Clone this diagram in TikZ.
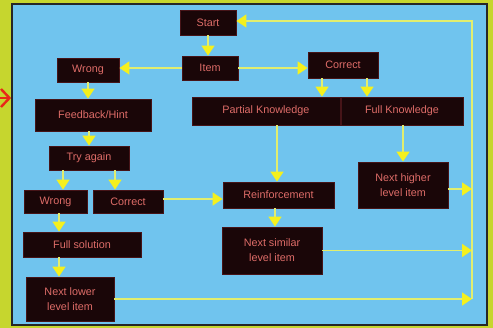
\documentclass[tikz,border=0pt]{standalone}
\usepackage{fontspec}
\setmainfont{Liberation Sans}
\usetikzlibrary{arrows.meta}
\definecolor{outerbg}{RGB}{198,214,46}
\definecolor{panel}{RGB}{112,196,238}
\definecolor{boxfill}{RGB}{26,6,8}
\definecolor{boxedge}{RGB}{70,20,24}
\definecolor{boxtext}{RGB}{222,108,104}
\definecolor{linecol}{RGB}{226,238,110}
\definecolor{arrowcol}{RGB}{244,240,30}
\definecolor{redarrow}{RGB}{232,40,24}
\tikzset{
  box/.style={draw=boxedge, line width=0.8pt, fill=boxfill, text=boxtext, inner sep=0pt,
    font=\fontsize{10.8}{15}\selectfont, align=center},
  conn/.style={draw=linecol, line width=1.5pt,
    -{Triangle[width=13pt,length=10pt,color=arrowcol,fill=arrowcol]}}
}
\begin{document}
\begin{tikzpicture}[x=1pt,y=-1pt]
\useasboundingbox (0,0) rectangle (493,328);
\fill[outerbg] (0,0) rectangle (493,328);
\fill[panel] (12,4) rectangle (487,325);
\draw[black!85, line width=2pt] (12,4) rectangle (487,325);
% red arrow at left
\draw[redarrow, line width=2.4pt, line cap=round] (0,98) -- (8,98);
\draw[redarrow, line width=2.4pt, line join=miter] (1,89) -- (9.5,98) -- (1,107);

% nodes
\node[box, minimum width=56pt, minimum height=25pt] (start) at (208,22.5) {Start};
\node[box, minimum width=56pt, minimum height=24pt] (item) at (210,68) {Item};
\node[box, minimum width=62pt, minimum height=24pt] (wrong1) at (88,70) {Wrong};
\node[box, minimum width=70pt, minimum height=26pt] (correct1) at (343,65) {Correct};
\node[box, minimum width=116pt, minimum height=32pt] (feedback) at (93,115) {Feedback/Hint};
\node[box, minimum width=148pt, minimum height=28pt] (partial) at (266,111) {Partial Knowledge};
\node[box, minimum width=122pt, minimum height=28pt] (full) at (402,111) {Full Knowledge};
\node[box, minimum width=80pt, minimum height=24pt] (tryagain) at (89,158) {Try again};
\node[box, minimum width=63pt, minimum height=23pt] (wrong2) at (55.5,201.5) {Wrong};
\node[box, minimum width=70pt, minimum height=23pt] (correct2) at (128,201.5) {Correct};
\node[box, minimum width=111pt, minimum height=26pt] (reinf) at (278.5,195) {Reinforcement};
\node[box, minimum width=90pt, minimum height=46pt] (nexthigher) at (403,185) {Next higher\\level item};
\node[box, minimum width=118pt, minimum height=25pt] (fullsol) at (82,244.5) {Full solution};
\node[box, minimum width=100pt, minimum height=47pt] (nextsim) at (272,250.5) {Next similar\\level item};
\node[box, minimum width=88pt, minimum height=44pt] (nextlower) at (70,299) {Next lower\\level item};

\coordinate (rtop) at (472,21);

% connectors
\draw[conn] (start.south) -- (start.south |- item.north);
\draw[conn] (item.west) -- (item.west -| wrong1.east);
\draw[conn] (item.east) -- (item.east -| correct1.west);
\draw[conn] ([xshift=-21pt]correct1.south) -- ([xshift=-21pt]correct1.south |- partial.north);
\draw[conn] ([xshift=24pt]correct1.south) -- ([xshift=24pt]correct1.south |- full.north);
\draw[conn] (wrong1.south) -- (wrong1.south |- feedback.north);
\draw[conn] (tryagain.north |- feedback.south) -- (tryagain.north);
\draw[conn] ([xshift=-26pt]tryagain.south) -- ([xshift=-26pt]tryagain.south |- wrong2.north);
\draw[conn] ([xshift=26pt]tryagain.south) -- ([xshift=26pt]tryagain.south |- correct2.north);
\draw[conn] ([xshift=3.5pt]wrong2.south) -- ([xshift=3.5pt]wrong2.south |- fullsol.north);
\draw[conn] ([xshift=-23pt]fullsol.south) -- ([xshift=-23pt]fullsol.south |- nextlower.north);
\draw[conn] ([yshift=2.5pt]correct2.east) -- ([yshift=2.5pt]correct2.east -| reinf.west);
\draw[conn] ([xshift=11pt]partial.south) -- ([xshift=11pt]partial.south |- reinf.north);
\draw[conn] ([xshift=-3.5pt]reinf.south) -- ([xshift=-3.5pt]reinf.south |- nextsim.north);
\draw[conn] (nexthigher.north |- full.south) -- (nexthigher.north);
\draw[conn] ([yshift=-4pt]nexthigher.east) -- ([yshift=-4pt]nexthigher.east -| rtop);
\draw[conn] (nextsim.east) -- (nextsim.east -| rtop);
\draw[conn] (nextlower.east) -- (nextlower.east -| rtop);
\draw[conn] (nextlower.east -| rtop) -- (rtop) -- (rtop -| start.east);
\end{tikzpicture}
\end{document}
